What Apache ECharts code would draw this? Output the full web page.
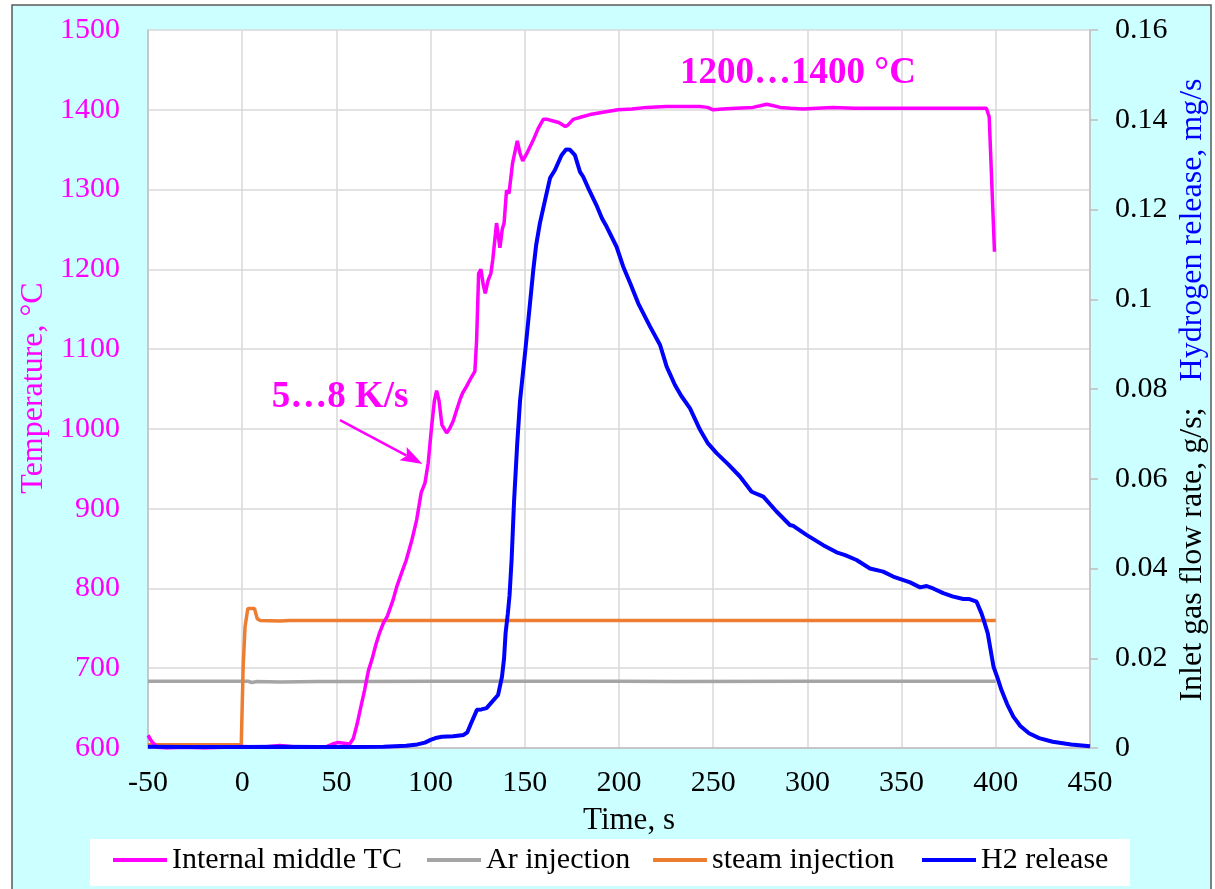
<!DOCTYPE html>
<html><head><meta charset="utf-8">
<script src="https://cdn.jsdelivr.net/npm/echarts@6/dist/echarts.min.js"></script>
<style>html,body{margin:0;padding:0;background:#fff}#c{width:1215px;height:889px}</style>
</head><body><div id="c"></div>
<script>
// ---- data ----
const xTickValues = [-50, 0, 50, 100, 150, 200, 250, 300, 350, 400, 450];
const seriesNames = ['Internal middle TC', 'Ar injection', 'steam injection', 'H2 release'];

const tcTime = [-50,-48,-45,-40,-30,-20,-10,0,10,20,30,40,45,48,51,54,57,59,61,63,65,67,69,71,73,75,77,80,82,85,87,90,92.6,95,97,98.7,100.5,102,103.2,104.5,106,108.5,110,112,114,115.5,117,119,121.7,123.5,124.4,125.5,126.7,128,129,130.5,132,133,135,136.8,138,139,140.3,141.6,143.5,146,147.5,148.9,151,154.5,157,159.8,162,165,168,171.5,173,175.7,180,184.6,191.5,199.5,207,214.7,225,235,243,247,250,255,262,271,275,278.4,282,285.5,291,297.7,305,313.6,325,337,349,360,372,384.5,390,395,396.5,399.3];
const tcTemp = [616,608,601,600,601,600,601,602,601,603,601,601,602,605,607,606,605,612,630,652,673,697,712,730,745,757,765,785,802,822,835,860,886,920,932,957,1002,1035,1048,1035,1005,995,1000,1010,1025,1036,1045,1053,1065,1072,1110,1195,1200,1180,1170,1186,1195,1212,1258,1227,1250,1258,1299,1295,1333,1361,1345,1336,1345,1362,1376,1388,1388,1386,1384,1379,1381,1388,1391,1394,1397,1400,1401,1403,1404,1404,1404,1403,1400,1401,1402,1403,1405,1407,1405,1403,1402,1401,1402,1403,1402,1402,1402,1402,1402,1402,1402,1402,1391,1222];

const arTime = [-50,0,3,5,8,20,40,60,100,150,200,230,300,350,400];
const arFlow = [0.0149,0.0149,0.0149,0.0146,0.0148,0.0147,0.0148,0.0148,0.0149,0.0149,0.0149,0.0148,0.0149,0.0149,0.0149];

const steamTime = [-50,-0.5,0.5,1.5,3,6.5,8,9.5,20,25,100,200,300,400];
const steamFlow = [0.0007,0.0007,0.018,0.027,0.0311,0.0311,0.0288,0.0284,0.0283,0.0284,0.0284,0.0284,0.0284,0.0284];

const h2Time = [-50,-30,0,20,40,60,75,87,93,97,100,103.3,106,112,117.5,119.5,121.5,124.6,127,129.7,132,135.8,137.9,139,139.8,141,141.9,143,144.3,146,147.5,150.4,152.5,154.5,156,158,160.6,163.4,166,169.5,172,174,176.6,179.3,181,184,188,191,193.4,198.7,202.2,206,210.2,216.5,221.8,225.3,229.7,233,237.7,243,247,251.8,258,264.2,270.4,276.6,283.6,290.7,292.5,299.5,308.4,315.5,320,326.1,333.2,340.2,345.5,354.5,359.8,363.3,367,372.1,377,382.7,386,389.8,392.4,393.6,395.7,398.8,401,403,406,409.3,413,417.6,423,430.2,440,450];
const h2Rate = [0.0003,0.0002,0.0002,0.0003,0.0002,0.0002,0.0003,0.0005,0.0008,0.0012,0.0018,0.0023,0.0025,0.0026,0.0029,0.0035,0.0055,0.0085,0.0086,0.0089,0.0100,0.0118,0.0159,0.0200,0.0256,0.0300,0.0340,0.0420,0.0550,0.0680,0.0775,0.0891,0.0980,0.1065,0.1120,0.1169,0.1218,0.1270,0.1288,0.1321,0.1334,0.1333,0.1321,0.1284,0.1273,0.1245,0.1210,0.1180,0.1162,0.1117,0.1073,0.1035,0.0991,0.0939,0.0898,0.0850,0.0809,0.0785,0.0757,0.0709,0.0680,0.0657,0.0632,0.0605,0.0571,0.0560,0.0527,0.0497,0.0495,0.0475,0.0452,0.0436,0.0430,0.0419,0.0400,0.0393,0.0382,0.0369,0.0358,0.0361,0.0355,0.0345,0.0338,0.0332,0.0332,0.0326,0.0300,0.0285,0.0256,0.0181,0.0155,0.0129,0.0098,0.0070,0.0049,0.0033,0.0022,0.0014,0.0008,0.0004];

// annotations (data coordinates: time, temperature)
const rateLabel = '5…8 K/s';
const rateLabelAt = [51.9, 1040];
const rateArrowFrom = [51.9, 1011];
const rateArrowTo = [95.7, 956];
const rangeLabel = '1200…1400 °C';
const rangeLabelAt = [295, 1446];

// ---- chart ----
const FONT = '"Liberation Serif", "Times New Roman", serif';
const MAG = '#ff00ff', GRAY = '#a5a5a5', ORANGE = '#ed7d31', BLUE = '#0000ff';
const zip = (a, b) => a.map((v, i) => [v, b[i]]);
const legendTextW = [233, 145, 188, 130];
const richItem = w => ({width: w, fontFamily: FONT, fontSize: 30, color: '#000', lineHeight: 34});

const chart = echarts.init(document.getElementById('c'), null, {renderer: 'canvas'});
const option = {
  animation: false,
  backgroundColor: '#ffffff',
  grid: {left: 148, right: 125, top: 30, bottom: 141, show: true, backgroundColor: '#ffffff', borderWidth: 0},
  legend: {
    data: seriesNames,
    left: 113, top: 845, padding: 0,
    itemWidth: 54, itemHeight: 4, itemGap: 22, icon: 'rect',
    formatter: function (name) { return '{t' + seriesNames.indexOf(name) + '|' + name + '}'; },
    textStyle: {
      fontFamily: FONT, fontSize: 30, color: '#000',
      rich: {t0: richItem(legendTextW[0]), t1: richItem(legendTextW[1]),
             t2: richItem(legendTextW[2]), t3: richItem(legendTextW[3])}
    }
  },
  xAxis: {
    type: 'value', min: -50, max: 450, interval: 50,
    axisLine: {show: true, onZero: false, lineStyle: {color: '#bfbfbf', width: 1.5}},
    axisTick: {show: false},
    axisLabel: {fontFamily: FONT, fontSize: 30, color: '#000', margin: 20},
    splitLine: {show: true, lineStyle: {color: '#d9d9d9', width: 1.5}}
  },
  yAxis: [
    {
      type: 'value', min: 600, max: 1500, interval: 100, position: 'left',
      axisLine: {show: true, onZero: false, lineStyle: {color: '#bfbfbf', width: 1.5}},
      axisTick: {show: false},
      axisLabel: {fontFamily: FONT, fontSize: 30, color: MAG, margin: 28, formatter: v => String(v)},
      splitLine: {show: true, lineStyle: {color: '#d9d9d9', width: 1.5}}
    },
    {
      type: 'value', min: 0, max: 0.16, interval: 0.02, position: 'right',
      axisLine: {show: true, onZero: false, lineStyle: {color: '#bfbfbf', width: 1.5}},
      axisTick: {show: true, inside: false, length: 8, lineStyle: {color: '#bfbfbf', width: 1.5}},
      axisLabel: {fontFamily: FONT, fontSize: 30, color: '#000', margin: 25,
        formatter: v => String(+v.toFixed(2))},
      splitLine: {show: false}
    }
  ],
  series: [
    {name: seriesNames[0], type: 'line', yAxisIndex: 0, data: zip(tcTime, tcTemp),
     showSymbol: false, symbol: 'none', z: 4, color: MAG, lineStyle: {color: MAG, width: 3.5}},
    {name: seriesNames[1], type: 'line', yAxisIndex: 1, data: zip(arTime, arFlow),
     showSymbol: false, symbol: 'none', z: 2, color: GRAY, lineStyle: {color: GRAY, width: 3.5}},
    {name: seriesNames[2], type: 'line', yAxisIndex: 1, data: zip(steamTime, steamFlow),
     showSymbol: false, symbol: 'none', z: 3, color: ORANGE, lineStyle: {color: ORANGE, width: 3.5}},
    {name: seriesNames[3], type: 'line', yAxisIndex: 1, data: zip(h2Time, h2Rate),
     showSymbol: false, symbol: 'none', z: 5, color: BLUE, lineStyle: {color: BLUE, width: 4}}
  ]
};
chart.setOption(option);

const toPx = p => chart.convertToPixel({xAxisIndex: 0, yAxisIndex: 0}, p);
const pRate = toPx(rateLabelAt);
const pRange = toPx(rangeLabelAt);
const a0 = toPx(rateArrowFrom), a1 = toPx(rateArrowTo);
const dx = a1[0] - a0[0], dy = a1[1] - a0[1], len = Math.hypot(dx, dy);
const ux = dx / len, uy = dy / len, headL = 22, headW = 7.5;
const base = [a1[0] - ux * headL, a1[1] - uy * headL];

chart.setOption({
  graphic: [
    {type: 'rect', z: -100, shape: {x: 12, y: 5, width: 1199, height: 892},
     style: {fill: '#ccffff', stroke: '#595959', lineWidth: 1.5}},
    {type: 'rect', z: -50, shape: {x: 90, y: 839, width: 1040, height: 47},
     style: {fill: '#ffffff'}},
    {type: 'text', x: 34, y: 388, rotation: Math.PI / 2, z: 10,
     style: {text: 'Temperature, °C', fontFamily: FONT, fontSize: 32, fill: MAG,
       align: 'center', verticalAlign: 'middle'}},
    {type: 'text', x: 629, y: 821, z: 10,
     style: {text: 'Time, s', fontFamily: FONT, fontSize: 31, fill: '#000',
       align: 'center', verticalAlign: 'middle'}},
    {type: 'text', x: 1193, y: 390, rotation: Math.PI / 2, z: 10,
     style: {text: '{a|Inlet gas flow rate, g/s;}{g|}{b|Hydrogen release, mg/s}',
       align: 'center', verticalAlign: 'middle',
       rich: {
         a: {fontFamily: FONT, fontSize: 32, fill: '#000', color: '#000'},
         g: {width: 26},
         b: {fontFamily: FONT, fontSize: 32, fill: BLUE, color: BLUE}
       }}},
    {type: 'line', z: 10, shape: {x1: a0[0], y1: a0[1], x2: base[0] + ux * 4, y2: base[1] + uy * 4},
     style: {stroke: MAG, lineWidth: 2.5}},
    {type: 'polygon', z: 10, shape: {points: [
       a1,
       [base[0] - uy * headW, base[1] + ux * headW],
       [a1[0] - ux * headL * 0.8, a1[1] - uy * headL * 0.8],
       [base[0] + uy * headW, base[1] - ux * headW]]},
     style: {fill: MAG}},
    {type: 'text', x: pRate[0], y: pRate[1], z: 10,
     style: {text: rateLabel, fontFamily: FONT, fontWeight: 'bold', fontSize: 37, fill: MAG,
       align: 'center', verticalAlign: 'middle'}},
    {type: 'text', x: pRange[0], y: pRange[1], z: 10,
     style: {text: rangeLabel, fontFamily: FONT, fontWeight: 'bold', fontSize: 37, fill: MAG,
       align: 'center', verticalAlign: 'middle'}}
  ]
});
</script>
</body></html>
